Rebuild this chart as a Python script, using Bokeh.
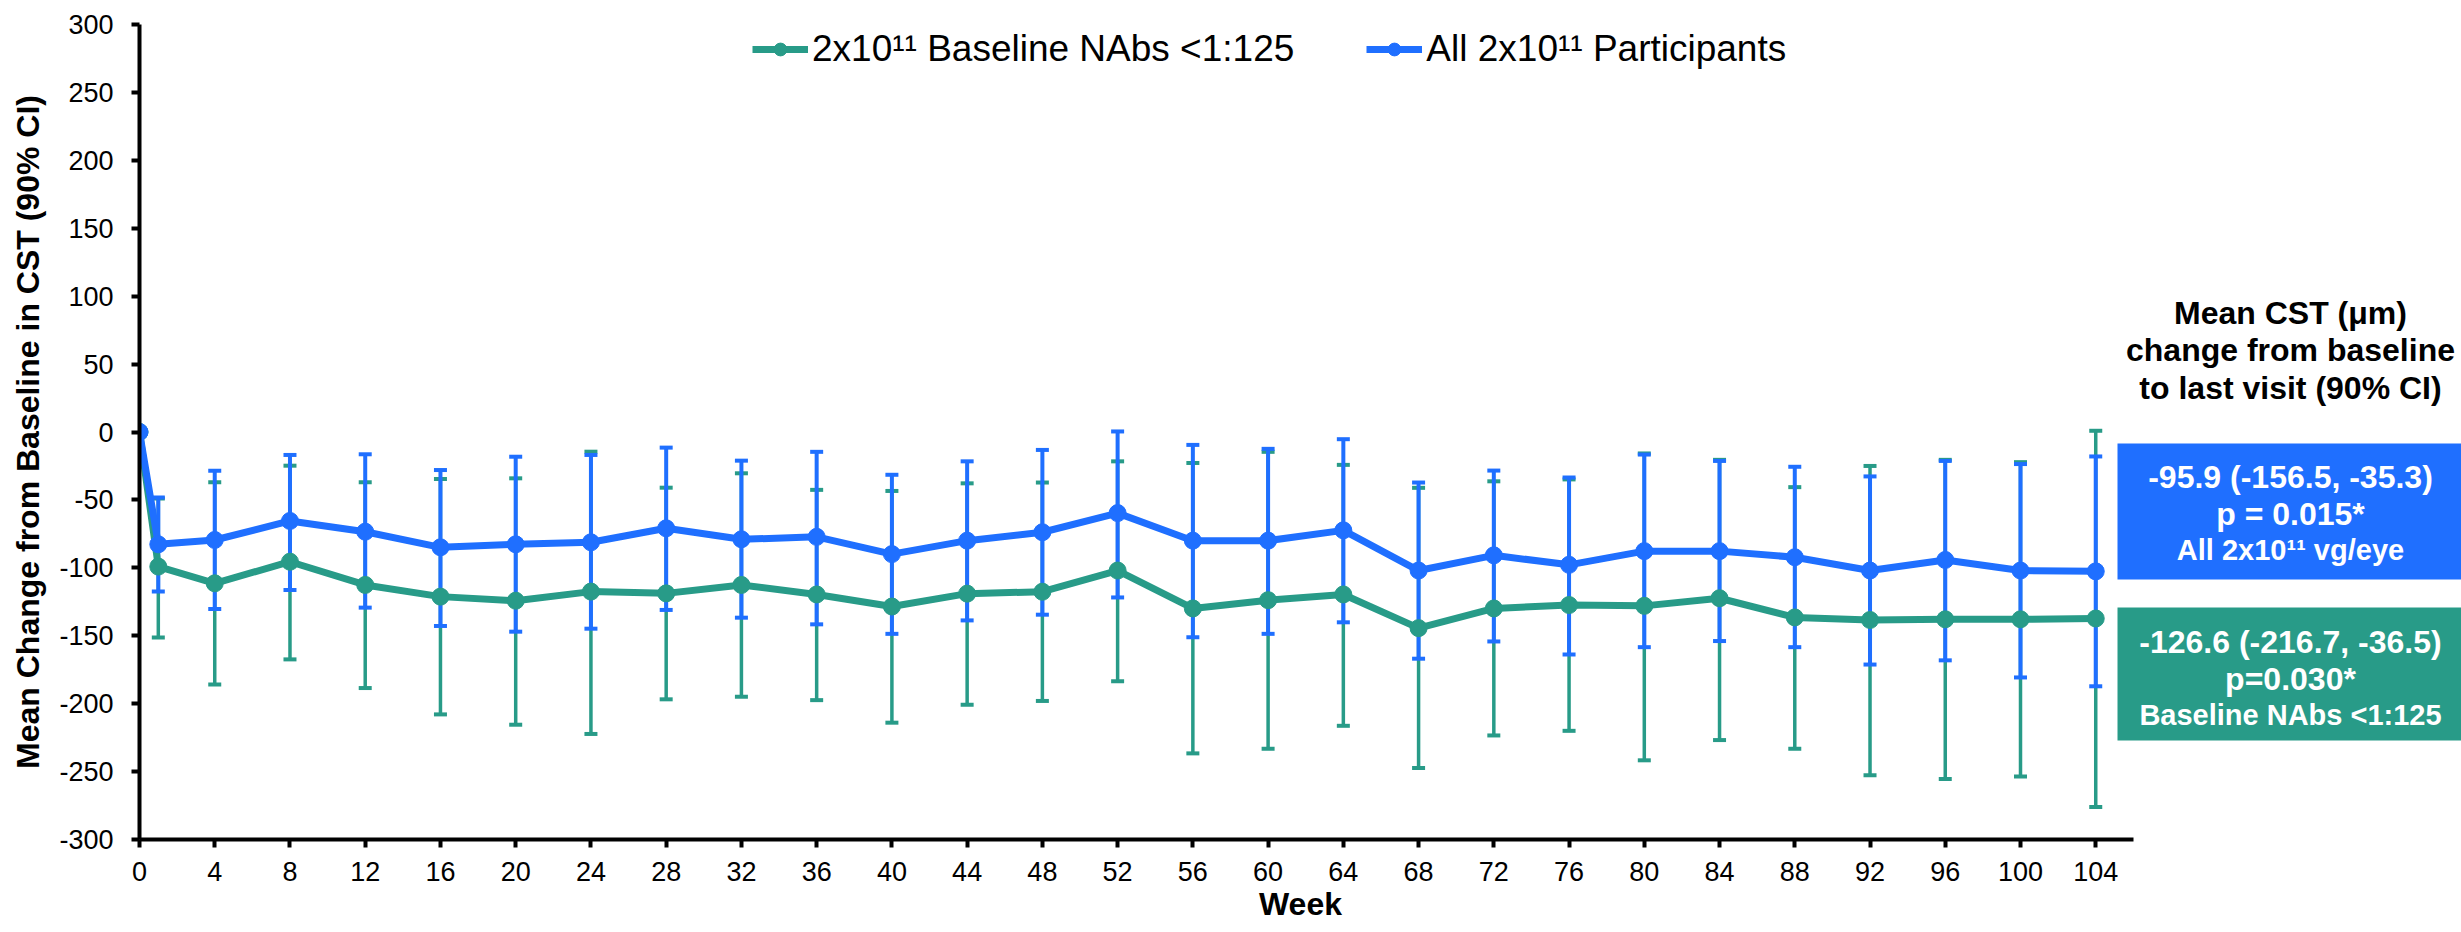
from bokeh.plotting import figure
from bokeh.models import (Range1d, FixedTicker, Legend, LegendItem, Label,
                          BoxAnnotation)
from bokeh.embed import file_html
from bokeh.resources import INLINE

# ---------------- data ----------------
weeks = [0, 1, 4, 8, 12, 16, 20, 24, 28, 32, 36, 40, 44, 48, 52, 56, 60, 64,
         68, 72, 76, 80, 84, 88, 92, 96, 100, 104]
ci_weeks = weeks[1:]

all_mean = [0, -82.7, -79.5, -65.5, -73.4, -84.9, -82.7, -81.2, -70.9, -79.0,
            -77.2, -89.9, -80.0, -73.8, -59.7, -80.0, -80.0, -72.4, -102.0,
            -90.8, -97.8, -87.7, -87.7, -92.2, -102.0, -94.2, -102.0, -102.6]
all_upper = [-48.3, -28.5, -16.9, -16.4, -28.0, -18.2, -16.9, -11.5, -21.1,
             -14.6, -31.5, -21.6, -13.2, 0.4, -9.5, -12.4, -5.3, -37.2, -28.4,
             -33.5, -16.6, -21.3, -25.6, -32.7, -21.3, -23.6, -18.0]
all_lower = [-117.5, -130.3, -116.3, -129.3, -142.8, -147.0, -144.8, -131.0,
             -136.7, -141.6, -148.6, -138.7, -134.5, -121.8, -151.1, -148.6,
             -140.1, -166.9, -154.2, -163.8, -158.4, -153.9, -158.4, -171.2,
             -168.1, -180.7, -187.2]

nab_mean = [0, -99.1, -111.4, -95.5, -112.6, -121.2, -124.2, -117.5, -118.8,
            -112.6, -119.6, -128.5, -119.0, -117.6, -102.0, -129.9, -123.8,
            -119.6, -144.4, -129.9, -127.4, -128.0, -122.4, -136.5, -138.4,
            -137.9, -137.9, -137.3]
nab_upper = [-49.0, -37.0, -24.8, -37.0, -34.6, -34.1, -14.5, -41.0, -30.4,
             -42.6, -43.4, -37.8, -37.2, -21.6, -22.8, -14.6, -24.2, -41.1,
             -36.3, -34.9, -15.8, -20.5, -40.6, -25.0, -20.5, -22.2, 0.9]
nab_lower = [-151.2, -185.8, -167.4, -188.5, -207.9, -215.5, -222.3, -196.8,
             -194.9, -197.4, -214.0, -200.8, -198.0, -183.5, -236.6, -233.2,
             -216.3, -247.3, -223.4, -220.0, -241.7, -226.8, -233.2, -252.7,
             -255.5, -253.6, -276.1]

x_ticks = list(range(0, 105, 4))
y_ticks = list(range(-300, 301, 50))

x_title = "Week"
y_title = "Mean Change from Baseline in CST (90% CI)"
label_nab = "2x10\u00b9\u00b9 Baseline NAbs <1:125"
label_all = "All 2x10\u00b9\u00b9 Participants"
side_title = ["Mean CST (\u03bcm)", "change from baseline", "to last visit (90% CI)"]
box_all = ["-95.9 (-156.5, -35.3)", "p = 0.015*", "All 2x10\u00b9\u00b9 vg/eye"]
box_nab = ["-126.6 (-216.7, -36.5)", "p=0.030*", "Baseline NAbs <1:125"]

# ---------------- layout ----------------
W, H = 2461, 932
LEFT, TOP, BOTTOM = 139, 24, 93
PX_PER_WEEK = 18.81
frame_w = W - LEFT
frame_h = H - TOP - BOTTOM
x_end = frame_w / PX_PER_WEEK
y_lo, y_hi = -300, 300
px_per_unit = frame_h / (y_hi - y_lo)


def dx(px):
    return (px - LEFT) / PX_PER_WEEK


def dy(py):
    return y_hi - (py - TOP) / px_per_unit


BLUE = "#1F6FFF"
GREEN = "#289B88"
FONT = "Liberation Sans"

p = figure(width=W, height=H, output_backend="svg", toolbar_location=None,
           x_range=Range1d(0, x_end), y_range=Range1d(y_lo, y_hi),
           min_border_left=LEFT, min_border_right=0, min_border_top=TOP,
           min_border_bottom=BOTTOM)
p.outline_line_color = None
p.grid.visible = False
p.background_fill_color = "white"

for ax in (p.xaxis[0], p.yaxis[0]):
    ax.axis_line_width = 4
    ax.axis_line_color = "black"
    ax.major_tick_line_width = 4
    ax.major_tick_line_color = "black"
    ax.major_tick_out = 8
    ax.major_tick_in = 0
    ax.minor_tick_line_color = None
    ax.major_label_text_font = FONT
    ax.major_label_text_font_size = "27px"
    ax.major_label_text_color = "black"
    ax.axis_label_text_font = FONT
    ax.axis_label_text_font_size = "32px"
    ax.axis_label_text_font_style = "bold"
    ax.axis_label_text_color = "black"

p.xaxis.ticker = FixedTicker(ticks=x_ticks)
p.yaxis.ticker = FixedTicker(ticks=y_ticks)
p.yaxis.major_label_overrides = {t: str(t) for t in y_ticks}
p.xaxis.major_label_overrides = {t: str(t) for t in x_ticks}
p.xaxis.bounds = (0, 106)
p.xaxis.axis_label = x_title
p.yaxis.axis_label = y_title
p.xaxis.major_label_standoff = 14
p.xaxis.axis_label_standoff = 2
p.yaxis.major_label_standoff = 18
p.yaxis.axis_label_standoff = 10

# error bars: green first, then blue
p.segment(x0=ci_weeks, y0=nab_lower, x1=ci_weeks, y1=nab_upper,
          line_color=GREEN, line_width=3.5)
p.scatter(ci_weeks, nab_upper, marker="dash", size=13, line_color=GREEN, line_width=4)
p.scatter(ci_weeks, nab_lower, marker="dash", size=13, line_color=GREEN, line_width=4)

p.segment(x0=ci_weeks, y0=all_lower, x1=ci_weeks, y1=all_upper,
          line_color=BLUE, line_width=4)
p.scatter(ci_weeks, all_upper, marker="dash", size=13, line_color=BLUE, line_width=4)
p.scatter(ci_weeks, all_lower, marker="dash", size=13, line_color=BLUE, line_width=4)

g_line = p.line(weeks, nab_mean, line_color=GREEN, line_width=7)
g_pts = p.scatter(weeks, nab_mean, marker="circle", size=17, fill_color=GREEN,
                  line_color=GREEN)
b_line = p.line(weeks, all_mean, line_color=BLUE, line_width=7)
b_pts = p.scatter(weeks, all_mean, marker="circle", size=17, fill_color=BLUE,
                  line_color=BLUE)

legend = Legend(items=[LegendItem(label=label_nab, renderers=[g_line, g_pts]),
                       LegendItem(label=label_all, renderers=[b_line, b_pts])],
                orientation="horizontal", location=(613, 769),
                border_line_color=None, background_fill_alpha=0,
                label_text_font=FONT, label_text_font_size="37px",
                label_text_color="black", glyph_width=56, glyph_height=32,
                spacing=72, padding=0, margin=0, label_standoff=4)
p.add_layout(legend, "center")

# right-hand annotation
cx = dx(2290)
for txt, py in zip(side_title, [312, 349, 387]):
    p.add_layout(Label(x=cx, y=dy(py), text=txt, text_align="center",
                       text_baseline="middle", text_font=FONT,
                       text_font_size="32px", text_font_style="bold",
                       text_color="black"))

p.add_layout(BoxAnnotation(left=dx(2117), right=x_end, top=dy(443), bottom=dy(579),
                           fill_color=BLUE, fill_alpha=1, line_color=None,
                           level="underlay"))
p.add_layout(BoxAnnotation(left=dx(2117), right=x_end, top=dy(607), bottom=dy(740),
                           fill_color=GREEN, fill_alpha=1, line_color=None,
                           level="underlay"))

for lines, ys in ((box_all, [476, 513, 549]), (box_nab, [641, 678, 714])):
    for i, (txt, py) in enumerate(zip(lines, ys)):
        p.add_layout(Label(x=cx, y=dy(py), text=txt, text_align="center",
                           text_baseline="middle", text_font=FONT,
                           text_font_size="32px" if i < 2 else "29px",
                           text_font_style="bold", text_color="white"))

open("out.html", "w").write(file_html(p, INLINE))
